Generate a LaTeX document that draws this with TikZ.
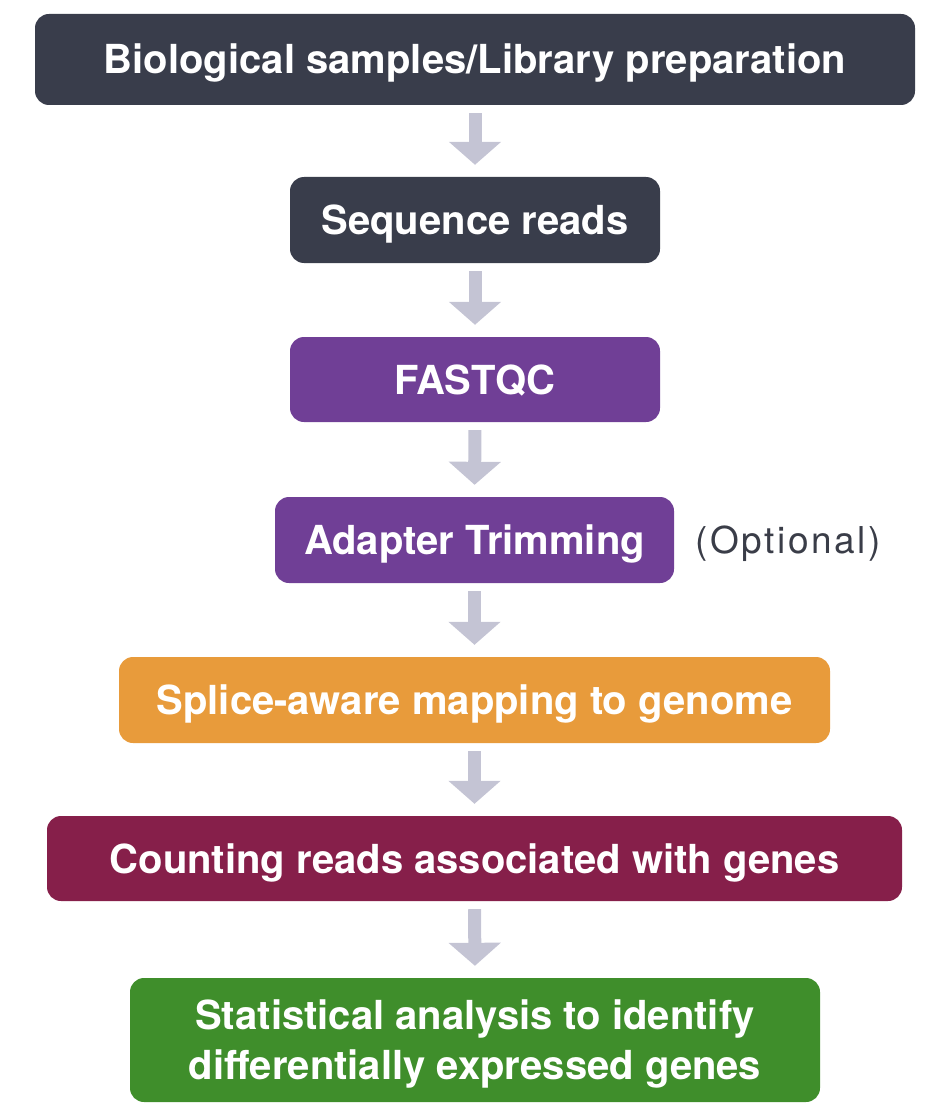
\documentclass[tikz,border=0pt]{standalone}
\usepackage{fontspec}
\setmainfont{TeX Gyre Heros}
\newfontfamily\notefont[LetterSpace=7]{TeX Gyre Heros}
\usetikzlibrary{arrows.meta}
\definecolor{slate}{HTML}{393D4B}
\definecolor{grape}{HTML}{703F96}
\definecolor{amber}{HTML}{E89B3B}
\definecolor{wine}{HTML}{861F4A}
\definecolor{leaf}{HTML}{3F8E2B}
\definecolor{flowgray}{HTML}{C4C4D4}
\definecolor{notegray}{HTML}{3A3D48}
\begin{document}
\begin{tikzpicture}[x=1pt,y=-1pt,
  stage/.style={fill=#1, rounded corners=14pt, text=white, inner sep=0pt,
    font=\fontsize{40}{50}\selectfont\bfseries, align=center,
    text height=29pt, text depth=0pt},
  flow/.style={draw=flowgray, line width=13pt,
    -{Triangle[width=51pt,length=23pt]}, shorten <=8pt, shorten >=12pt}]
\useasboundingbox (0,0) rectangle (940,1110);
\node[stage=slate, minimum width=880pt, minimum height=91pt] (bio) at (475,59.5) {Biological samples/Library preparation};
\node[stage=slate, minimum width=370pt, minimum height=86pt] (seq) at (475,220) {Sequence reads};
\node[stage=grape, minimum width=370pt, minimum height=85pt] (qc) at (475,379.5) {FASTQC};
\node[stage=grape, minimum width=399pt, minimum height=86pt] (trim) at (474.5,540) {Adapter Trimming};
\node[stage=amber, minimum width=711pt, minimum height=86pt] (map) at (474.5,700) {Splice-aware mapping to genome};
\node[stage=wine, minimum width=855pt, minimum height=85pt] (count) at (474.5,858.5) {Counting reads associated with genes};
\node[stage=leaf, minimum width=690pt, minimum height=124pt, text height=79pt] (stat) at (475,1040) {Statistical analysis to identify\\differentially expressed genes};
\node[anchor=west, inner sep=0pt, text=notegray, font=\fontsize{37}{42}\notefont,
  text height=26pt, text depth=0pt] (opt) at ([xshift=21pt]trim.east) {(Optional)};
\draw[flow] (bio.south) -- (seq.north);
\draw[flow] (seq.south) -- (qc.north);
\draw[flow] (qc.south) -- (trim.north);
\draw[flow] (trim.south) -- (map.north);
\draw[flow] (map.south) -- (count.north);
\draw[flow] (count.south) -- (stat.north);
\end{tikzpicture}
\end{document}
